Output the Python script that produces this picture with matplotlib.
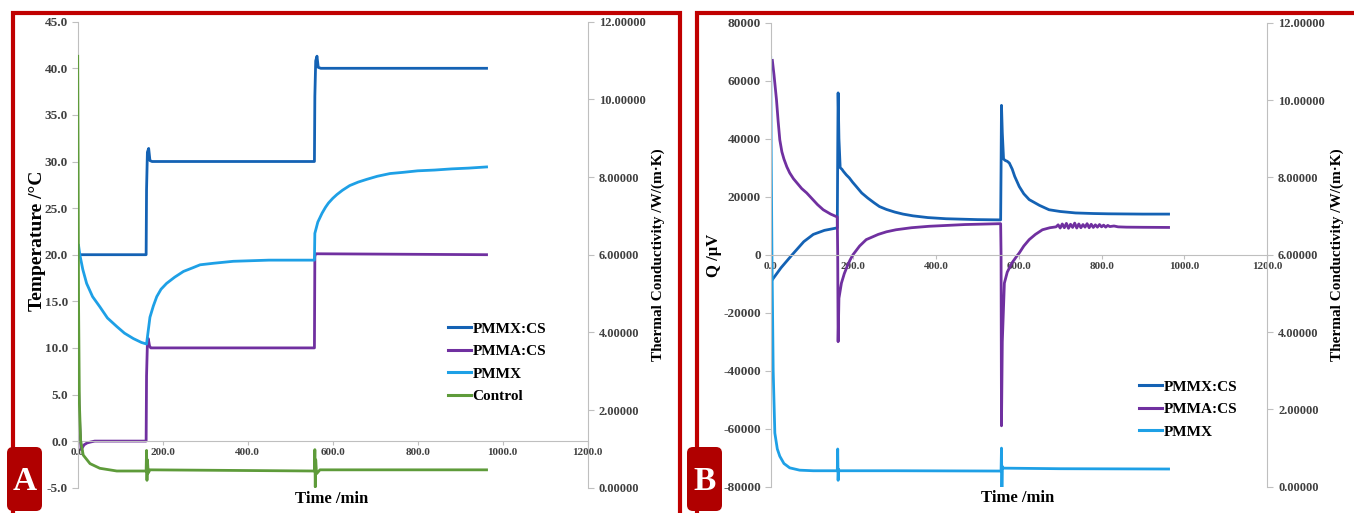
import matplotlib
matplotlib.use("Agg")
import matplotlib.pyplot as plt
from matplotlib.patches import Rectangle, FancyBboxPatch
from matplotlib.lines import Line2D
from matplotlib.ticker import FormatStrFormatter, MultipleLocator
from matplotlib.transforms import IdentityTransform

W, H = 1354, 513

plt.rcParams['font.family'] = ['Liberation Serif', 'DejaVu Serif']
plt.rcParams['font.weight'] = 'bold'

# panel A: temperature steps (left axis, degC) and conductivity (right axis)
a_pmmxcs_t = [4, 161, 162, 164, 167, 170, 175, 557, 558, 560, 563, 566, 572, 962]
a_pmmxcs_T = [20.0, 20.0, 27.0, 31.0, 31.4, 30.1, 30.0, 30.0, 37.0, 40.8, 41.3, 40.1, 40.0, 40.0]

a_pmmacs_t = [2, 5, 8, 11, 15, 22, 30, 40, 161, 162, 164, 166, 169, 172, 557, 558, 560, 962]
a_pmmacs_T = [5.5, 1.5, -0.9, -0.7, -0.4, -0.2, -0.1, 0.0, 0.0, 7.0, 10.5, 11.0, 10.2, 10.0,
              10.0, 19.8, 20.1, 20.0]

a_pmmx_t = [2, 5, 12, 21, 35, 52, 70, 92, 110, 131, 150, 162,
            165, 170, 178, 186, 196, 209, 228, 249, 270, 288, 320, 366, 450, 557,
            558, 565, 575, 583, 590, 600, 610, 623, 640, 660, 680, 705, 735, 765, 800,
            840, 880, 920, 962]
a_pmmx_k = [6.24, 6.00, 5.62, 5.26, 4.92, 4.66, 4.37, 4.15, 3.98, 3.84, 3.74, 3.70,
            3.96, 4.39, 4.68, 4.92, 5.11, 5.26, 5.42, 5.57, 5.66, 5.74, 5.78, 5.83, 5.86, 5.86,
            6.55, 6.84, 7.07, 7.22, 7.33, 7.45, 7.55, 7.66, 7.78, 7.87, 7.94, 8.02, 8.09, 8.12,
            8.16, 8.18, 8.21, 8.23, 8.26]

a_ctrl_t = [0, 1, 2, 4, 7, 13, 29, 52, 92, 161, 162, 163, 164, 166, 170, 557, 558, 559,
            560, 562, 570, 962]
a_ctrl_k = [11.11, 8.40, 4.80, 2.16, 1.20, 0.84, 0.62, 0.50, 0.43, 0.43, 0.96, 0.19, 0.72,
            0.38, 0.46, 0.43, 0.98, 0.02, 0.72, 0.36, 0.46, 0.46]

# panel B: heat flow signal Q in uV
b_pmmxcs_t = [2, 25, 52, 80, 103, 130, 159, 161, 162, 163, 165, 168, 172, 176, 183, 190,
              198, 207, 220, 235, 250, 263, 280, 300, 320, 344, 380, 424, 500, 556,
              557, 558, 560, 563, 567, 572, 577, 584, 590, 601, 612, 625, 650, 673, 700,
              737, 780, 817, 900, 962]
b_pmmxcs_Q = [-9000, -4500, 0, 4500, 7000, 8400, 9200, 9300, 35000, 55800, 40000, 30000,
              29500, 28700, 27500, 26500, 25000, 23500, 21300, 19500, 17900, 16600, 15600,
              14700, 14000, 13400, 12800, 12400, 12100, 12000,
              30000, 51500, 42000, 33000, 32500, 32200, 31600, 29500, 27000, 23500, 21000,
              19000, 17000, 15500, 14900, 14400, 14200, 14100, 14000, 14000]

b_pmmacs_t = [4, 8, 14, 18, 22, 27, 32, 39, 46, 55, 65, 75, 87, 100, 113, 127, 145, 161,
              162, 163, 165, 171, 178, 185, 192, 199, 215, 231, 260, 280, 303, 340, 383,
              470, 556,
              557, 558, 560, 565, 572, 583, 595, 601, 612, 625, 640, 657, 675,
              690, 695, 700, 705, 710, 715, 720, 725, 730, 735, 740, 745, 750, 755, 760,
              765, 770, 775, 780, 785, 790, 795, 800, 805, 810, 815, 820,
              830, 840, 860, 900, 962]
b_pmmacs_Q = [67000, 62000, 53400, 46000, 39600, 35500, 33000, 30300, 28200, 26200, 24500,
              22800, 21300, 19300, 17300, 15500, 14000, 13000,
              0, -30000, -15000, -9800, -6500, -4000, -1800, 0, 3000, 5200, 7000, 7900, 8600,
              9300, 9800, 10400, 10700,
              0, -59000, -30000, -9800, -6000, -2900, -500, 600, 3000, 5200, 7000, 8600, 9300,
              9600, 10300, 9200, 10600, 9300, 10800, 9100, 10500, 9400, 10900, 9200, 10600,
              9300, 10400, 9500, 10700, 9300, 10500, 9400, 10300, 9500, 10400, 9600, 10200,
              9500, 10100, 9700,
              9900, 9600, 9500, 9450, 9400]

b_pmmx_t = [0, 1, 3, 6, 10, 16, 22, 32, 46, 70, 103, 161, 162, 163, 164, 166, 300, 557,
            558, 559, 560, 562, 700, 962]
b_pmmx_Q = [68000, 40000, 0, -40000, -61500, -67000, -69500, -72000, -73500, -74300,
            -74500, -74500, -67000, -77800, -74000, -74500, -74500, -74600, -66700, -80400,
            -73000, -73600, -73800, -73900]

C_PMMXCS = '#1462B4'
C_PMMACS = '#7030A0'
C_PMMX = '#1EA0E6'
C_CTRL = '#5E9B3A'
GRAY = '#BFBFBF'
TXT = '#404040'
FRAME = '#C00000'


def fx(px):
    return px / W


def fy(py):
    return 1 - py / H


def style_axes(ax, ax2):
    for s in ('top', 'right'):
        ax.spines[s].set_visible(False)
    ax.spines['left'].set_color(GRAY)
    ax.spines['bottom'].set_color(GRAY)
    ax.spines['bottom'].set_position(('data', 0))
    for s in ('top', 'left', 'bottom'):
        ax2.spines[s].set_visible(False)
    ax2.spines['right'].set_color(GRAY)
    ax.tick_params(axis='y', direction='out', length=4, width=0.8, color=GRAY,
                   labelsize=9.5, labelcolor=TXT, pad=3)
    ax.tick_params(axis='x', direction='out', length=3, width=0.8, color=GRAY,
                   labelsize=8, labelcolor=TXT, pad=2)
    ax2.tick_params(axis='y', direction='out', length=4, width=0.8, color=GRAY,
                    labelsize=9, labelcolor=TXT, pad=4)
    ax.set_xlim(0, 1200)
    ax.xaxis.set_major_locator(MultipleLocator(200))
    ax.xaxis.set_major_formatter(FormatStrFormatter('%.1f'))
    ax2.set_ylim(0, 12)
    ax2.yaxis.set_major_locator(MultipleLocator(2))
    ax2.yaxis.set_major_formatter(FormatStrFormatter('%.5f'))


legend_kw = dict(loc='upper left', frameon=False, borderpad=0, borderaxespad=0,
                 handlelength=1.5, handletextpad=0.1, labelspacing=0.58,
                 prop={'size': 11, 'weight': 'bold'})

fig = plt.figure(figsize=(W / 100, H / 100), dpi=100)

# ---- panel A
axA = fig.add_axes([fx(77.7), fy(487.7), fx(587.7) - fx(77.7), fy(21.7) - fy(487.7)])
axA2 = axA.twinx()
style_axes(axA, axA2)
axA.set_ylim(-5, 45)
axA.yaxis.set_major_locator(MultipleLocator(5))
axA.yaxis.set_major_formatter(FormatStrFormatter('%.1f'))

lw = 2.0
axA.plot(a_pmmxcs_t, a_pmmxcs_T, color=C_PMMXCS, lw=lw)
axA.plot(a_pmmacs_t, a_pmmacs_T, color=C_PMMACS, lw=lw)
axA2.plot(a_pmmx_t, a_pmmx_k, color=C_PMMX, lw=lw)
axA2.plot(a_ctrl_t, a_ctrl_k, color=C_CTRL, lw=lw)

handlesA = [Line2D([], [], color=c, lw=2.2) for c in (C_PMMXCS, C_PMMACS, C_PMMX, C_CTRL)]
axA2.legend(handlesA, ['PMMX:CS', 'PMMA:CS', 'PMMX', 'Control'],
            bbox_to_anchor=(fx(448), fy(322)), bbox_transform=fig.transFigure, **legend_kw)

fig.text(fx(332), fy(499), 'Time /min', ha='center', va='center', fontsize=12)
fig.text(fx(37), fy(241), 'Temperature /°C', ha='center', va='center', rotation=90,
         fontsize=14)
fig.text(fx(658), fy(255), 'Thermal Conductivity /W/(m·K)', ha='center', va='center',
         rotation=90, fontsize=11)

# ---- panel B
axB = fig.add_axes([fx(770.7), fy(486.7), fx(1267) - fx(770.7), fy(22.7) - fy(486.7)])
axB2 = axB.twinx()
style_axes(axB, axB2)
axB.set_ylim(-80000, 80000)
axB.yaxis.set_major_locator(MultipleLocator(20000))
axB.yaxis.set_major_formatter(FormatStrFormatter('%d'))

axB.plot(b_pmmxcs_t, b_pmmxcs_Q, color=C_PMMXCS, lw=lw)
axB.plot(b_pmmacs_t, b_pmmacs_Q, color=C_PMMACS, lw=lw)
axB.plot(b_pmmx_t, b_pmmx_Q, color=C_PMMX, lw=lw)

handlesB = [Line2D([], [], color=c, lw=2.2) for c in (C_PMMXCS, C_PMMACS, C_PMMX)]
axB2.legend(handlesB, ['PMMX:CS', 'PMMA:CS', 'PMMX'],
            bbox_to_anchor=(fx(1139), fy(380)), bbox_transform=fig.transFigure, **legend_kw)

fig.text(fx(1018), fy(498), 'Time /min', ha='center', va='center', fontsize=12)
fig.text(fx(714), fy(255), 'Q /μV', ha='center', va='center', rotation=90, fontsize=12)
fig.text(fx(1337), fy(255), 'Thermal Conductivity /W/(m·K)', ha='center', va='center',
         rotation=90, fontsize=11)

# ---- red panel frames and letter tags
px = IdentityTransform()
fig.add_artist(Rectangle((13, -20), 680 - 13, H - 13 + 20, transform=px, fill=False,
                         ec=FRAME, lw=3, clip_on=False))
fig.add_artist(Rectangle((697, -20), 700, H - 13 + 20, transform=px, fill=False,
                         ec=FRAME, lw=3, clip_on=False))
for x0, letter in ((7, 'A'), (687, 'B')):
    fig.add_artist(FancyBboxPatch((x0, 2), 35, 64, boxstyle='round,pad=0,rounding_size=6',
                                  transform=px, fc='#B00000', ec='none'))
    fig.text(fx(x0 + 17.5), fy(481), letter, ha='center', va='center', color='white',
             fontsize=24, fontweight='bold')

fig.savefig('out.png', dpi=100)
